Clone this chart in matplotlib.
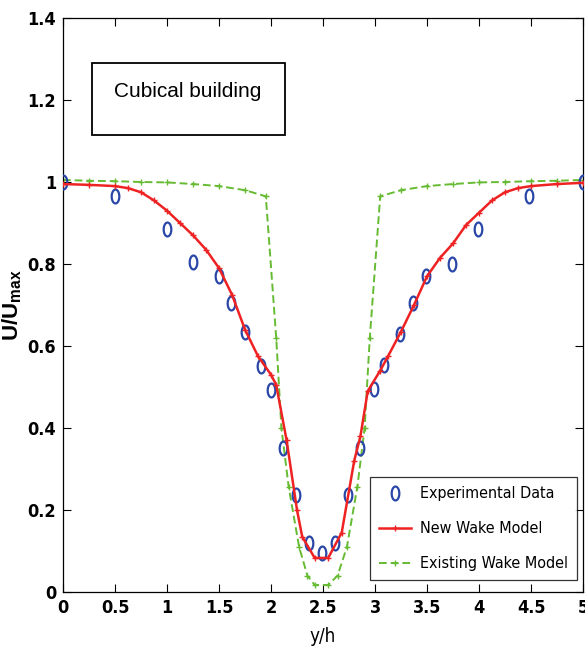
import matplotlib
matplotlib.use('Agg')
import matplotlib.pyplot as plt
from matplotlib.path import Path
from matplotlib import font_manager
import numpy as np

plt.rcParams['font.family'] = ['Liberation Sans', 'DejaVu Sans']
plt.rcParams['mathtext.fontset'] = 'custom'
plt.rcParams['mathtext.rm'] = 'Liberation Sans'
plt.rcParams['mathtext.bf'] = 'Liberation Sans:bold'

# experimental data
expX = [0, 0.5, 1.0, 1.25, 1.5, 1.62, 1.75, 1.9, 2.0, 2.12, 2.24, 2.37, 2.49,
        2.62, 2.74, 2.86, 2.99, 3.09, 3.24, 3.37, 3.49, 3.74, 3.99, 4.48, 5.0]
expY = [1.0, 0.966, 0.885, 0.805, 0.77, 0.705, 0.634, 0.551, 0.493, 0.35, 0.237,
        0.12, 0.095, 0.12, 0.237, 0.35, 0.495, 0.553, 0.63, 0.705, 0.77, 0.80,
        0.885, 0.966, 1.0]

# new wake model
newX = [0, 0.25, 0.5, 0.625, 0.75, 0.875, 1.0, 1.125, 1.25, 1.375, 1.5, 1.625,
        1.75, 1.875, 2.0, 2.05, 2.15, 2.25, 2.3, 2.42, 2.55, 2.68, 2.8, 2.86,
        2.93, 3.05, 3.125, 3.25, 3.375, 3.5, 3.625, 3.75, 3.875, 4.0, 4.125,
        4.25, 4.375, 4.5, 4.75, 5.0]
newY = [0.995, 0.993, 0.99, 0.985, 0.975, 0.955, 0.93, 0.90, 0.87, 0.835, 0.79,
        0.725, 0.64, 0.575, 0.53, 0.505, 0.37, 0.20, 0.135, 0.083, 0.083, 0.145,
        0.32, 0.38, 0.49, 0.54, 0.575, 0.635, 0.70, 0.77, 0.815, 0.85, 0.895,
        0.925, 0.955, 0.975, 0.985, 0.99, 0.995, 0.998]

# existing wake model
oldX = [0, 0.25, 0.5, 0.75, 1.0, 1.25, 1.5, 1.75, 1.95, 2.05, 2.1, 2.17, 2.27,
        2.35, 2.42, 2.55, 2.64, 2.73, 2.83, 2.9, 2.95, 3.05, 3.25, 3.5, 3.75,
        4.0, 4.25, 4.5, 4.75, 5.0]
oldY = [1.005, 1.003, 1.002, 1.0, 0.999, 0.995, 0.99, 0.98, 0.965, 0.62, 0.40,
        0.256, 0.11, 0.04, 0.017, 0.017, 0.04, 0.11, 0.256, 0.40, 0.62, 0.965,
        0.98, 0.99, 0.995, 0.999, 1.0, 1.002, 1.003, 1.005]

xTicks = [0, 0.5, 1, 1.5, 2, 2.5, 3, 3.5, 4, 4.5, 5]
xTickLabels = ['0', '0.5', '1', '1.5', '2', '2.5', '3', '3.5', '4', '4.5', '5']
yTicks = [0, 0.2, 0.4, 0.6, 0.8, 1.0, 1.2, 1.4]
yTickLabels = ['0', '0.2', '0.4', '0.6', '0.8', '1', '1.2', '1.4']

# narrow font for ticks/legend, like the matlab export
tickFont = font_manager.FontProperties(family='DejaVu Sans', stretch='condensed',
                                       weight='bold', size=13)
legFont = font_manager.FontProperties(family='DejaVu Sans', stretch='condensed',
                                      size=11.5)
xlabFont = font_manager.FontProperties(family='DejaVu Sans', stretch='condensed',
                                       size=13.5)

# tall ellipse marker (the original picture is stretched vertically)
t = np.linspace(0, 2 * np.pi, 40)
ellipse = Path(np.column_stack([0.55 * np.cos(t), np.sin(t)]), closed=True)

fig = plt.figure(figsize=(5.85, 6.59), dpi=100)
ax = fig.add_axes([0.1077, 0.1017, 0.8889, 0.871])

ax.plot(expX, expY, linestyle='none', marker=ellipse, markersize=10,
        markerfacecolor='none', markeredgecolor='#2a47a8', markeredgewidth=1.6,
        label='Experimental Data', zorder=3)
ax.plot(newX, newY, color='#ee2222', linewidth=1.8, marker='+', markersize=4,
        markeredgewidth=1.0, label='New Wake Model', zorder=4)
ax.plot(oldX, oldY, color='#66bb33', linewidth=1.4, linestyle=(0, (4, 2)),
        marker='+', markersize=4, markeredgewidth=1.0,
        label='Existing Wake Model', zorder=2)

ax.set_xlim(0, 5)
ax.set_ylim(0, 1.4)
ax.set_xticks(xTicks)
ax.set_xticklabels(xTickLabels, fontproperties=tickFont)
ax.set_yticks(yTicks)
ax.set_yticklabels(yTickLabels, fontproperties=tickFont)
ax.tick_params(direction='in', top=True, right=True, length=6, width=0.8, pad=5)
for sp in ax.spines.values():
    sp.set_linewidth(0.9)

ax.set_xlabel('y/h', fontproperties=xlabFont, labelpad=7)
ax.set_ylabel(r'$\mathbf{U/U_{max}}$', fontsize=16)
ax.yaxis.set_label_coords(-0.075, 0.5)

# label box
ax.text(1.2, 1.22, 'Cubical building', fontsize=15, ha='center', va='center')
ax.add_patch(plt.Rectangle((0.28, 1.115), 1.85, 0.175, fill=False,
                           edgecolor='black', linewidth=1.3, zorder=5))

leg = ax.legend(loc='lower right', bbox_to_anchor=(0.9885, 0.021), prop=legFont,
                frameon=True, fancybox=False, edgecolor='black', borderpad=0.55,
                labelspacing=1.25, handlelength=2.0, handletextpad=0.6,
                borderaxespad=0)
leg.get_frame().set_linewidth(0.9)

fig.savefig('out.png', dpi=100)
